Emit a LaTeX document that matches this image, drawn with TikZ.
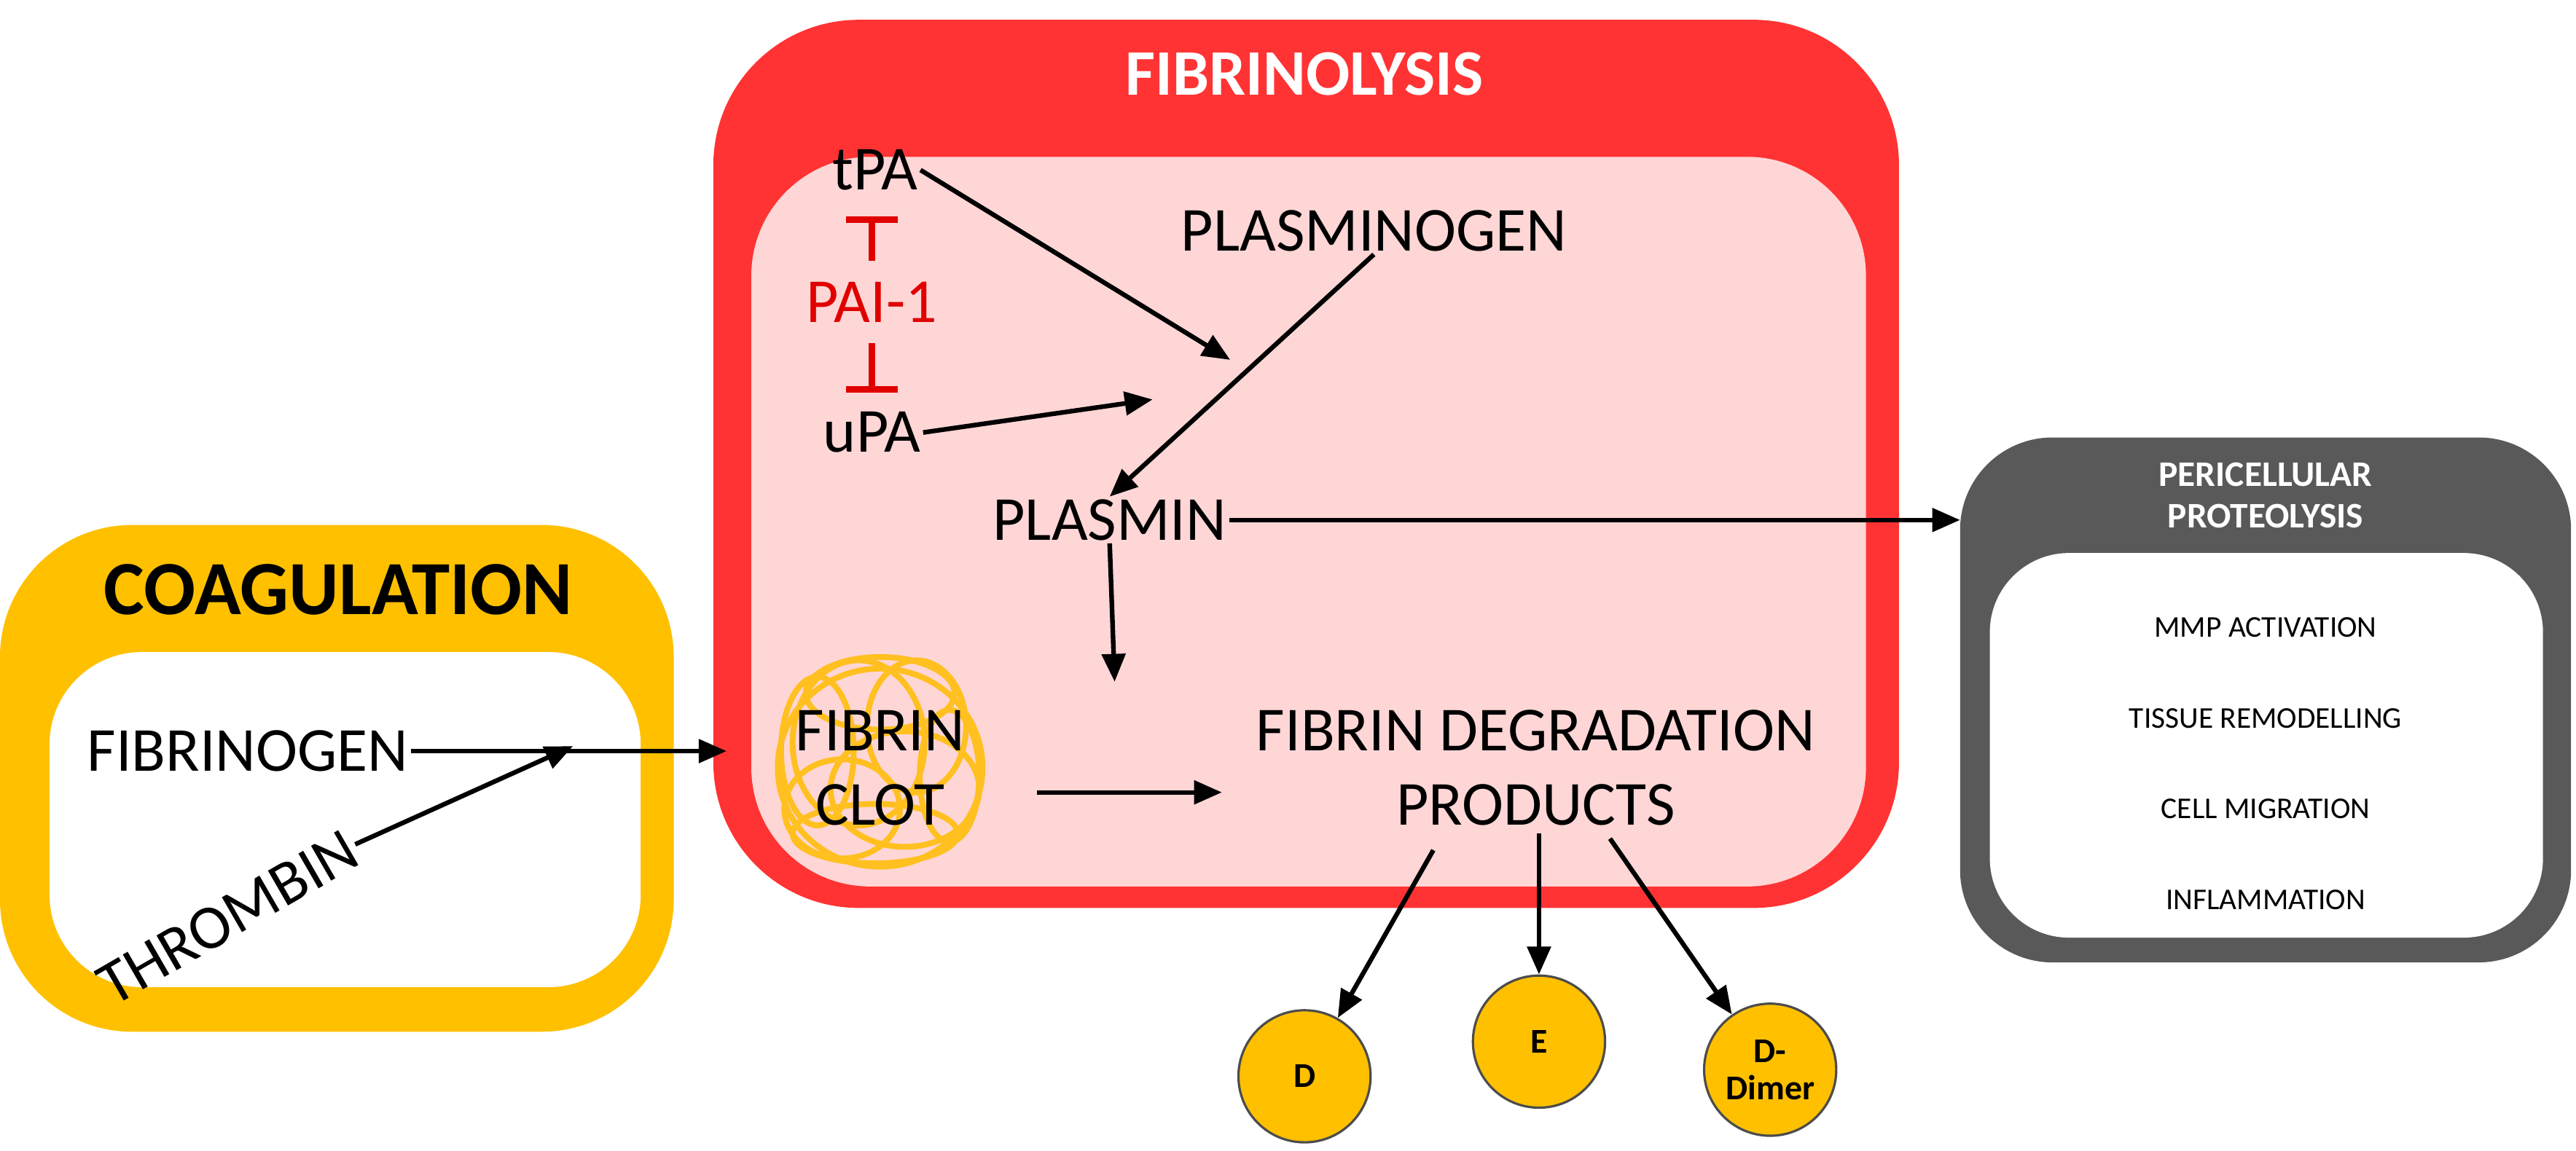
\documentclass[tikz,border=0pt]{standalone}
\usepackage{fontspec}
\setmainfont{Carlito}
\usetikzlibrary{arrows.meta}
\definecolor{coag}{HTML}{FFC000}
\definecolor{fibred}{HTML}{FF3333}
\definecolor{fibpink}{HTML}{FFD6D6}
\definecolor{peri}{HTML}{595959}
\definecolor{inh}{HTML}{E00000}
\definecolor{clot}{HTML}{FFC020}
\begin{document}
\begin{tikzpicture}[x=0.025cm,y=-0.025cm,
  lbl/.style={font=\fontsize{27}{32}\selectfont,align=center,inner sep=1pt},
  small/.style={font=\fontsize{13}{15}\selectfont,align=center},
  arr/.style={-{Triangle[length=12pt,width=10pt]},line width=2pt},
  blunt/.style={-{Bar[width=22pt,line width=3pt]},line width=3pt,inh},
  circ/.style={circle,draw=black!70,fill=coag,line width=1pt,minimum size=2cm,font=\fontsize{15}{16}\selectfont\bfseries,align=center,inner sep=0pt}]
\useasboundingbox (0,0) rectangle (1560,697);
% boxes
\fill[coag,rounded corners=2cm] (0,318) rectangle (408,625);
\fill[white,rounded corners=1.4cm] (30,395) rectangle (388,598);
\fill[fibred,rounded corners=2.2cm] (432,12) rectangle (1150,550);
\fill[fibpink,rounded corners=1.8cm] (455,95) rectangle (1130,537);
\fill[peri,rounded corners=1.4cm] (1187,265) rectangle (1557,583);
\fill[white,rounded corners=1.2cm] (1205,335) rectangle (1540,568);
% titles
\node[font=\fontsize{33}{36}\selectfont\bfseries] (tcoag) at (205,357) {COAGULATION};
\node[font=\fontsize{28}{30}\selectfont\bfseries,text=white] (tfib) at (790,45) {FIBRINOLYSIS};
\node[font=\fontsize{15.5}{18}\selectfont\bfseries,text=white,align=center] (tperi) at (1372,300) {PERICELLULAR\\PROTEOLYSIS};
% clot scribble
\begin{scope}[clot,line width=2.5pt]
\draw (533,465) ellipse (62 and 60);
\draw (520,450) ellipse (40 and 50);
\draw (548,478) ellipse (45 and 35);
\draw (510,490) ellipse (35 and 30);
\draw (555,440) ellipse (30 and 40);
\draw (533,420) ellipse (45 and 22);
\draw (530,505) ellipse (50 and 18);
\draw (495,455) ellipse (22 and 45);
\draw (575,470) ellipse (18 and 40);
\end{scope}
% texts
\node[lbl] (tpa) at (530,103) {tPA};
\node[lbl,text=inh] (pai) at (528,183) {PAI-1};
\node[lbl] (upa) at (528,262) {uPA};
\node[lbl] (plg) at (832,140) {PLASMINOGEN};
\node[lbl] (pls) at (672,315) {PLASMIN};
\node[lbl] (clotl) at (533,465) {FIBRIN\\CLOT};
\node[lbl] (fdp) at (930,465) {FIBRIN DEGRADATION\\PRODUCTS};
\node[lbl] (fbg) at (150,455) {FIBRINOGEN};
\node[lbl,rotate=30] (thr) at (138,556) {THROMBIN};
\node[small] (m1) at (1372,380) {MMP ACTIVATION};
\node[small] (m2) at (1372,435) {TISSUE REMODELLING};
\node[small] (m3) at (1372,490) {CELL MIGRATION};
\node[small] (m4) at (1372,545) {INFLAMMATION};
\node[circ] (d) at (790,652) {D};
\node[circ] (e) at (932,631) {E};
\node[circ] (dd) at (1072,648) {D-\\Dimer};
% coordinates
\coordinate (j1) at (745,218);
\coordinate (j2) at (698,242);
\coordinate (j3) at (347,452);
\coordinate (j4) at (675,413);
\coordinate (fibE) at (440,455);
\coordinate (periW) at (1187,315);
\coordinate (fdpIn) at (740,480);
\coordinate (b1) at (528,131);
\coordinate (b2) at (528,238);
\coordinate (clotE) at (628,480);
% connectors
\draw[blunt] (528,158) -- (b1);
\draw[blunt] (528,208) -- (b2);
\draw[arr] (tpa.east) -- (j1);
\draw[arr] (upa.east) -- (j2);
\draw[arr] (plg.south) -- (pls.north);
\draw[arr] (pls.east) -- (periW);
\draw[arr] (pls.south) -- (j4);
\draw[arr] (clotE) -- (fdpIn);
\draw[arr] (fbg.east) -- (fibE);
\draw[arr] (thr.east) -- (j3);
\draw[arr] (868,515) -- (d);
\draw[arr] (932,505) -- (e);
\draw[arr] (975,508) -- (dd);
\end{tikzpicture}
\end{document}
